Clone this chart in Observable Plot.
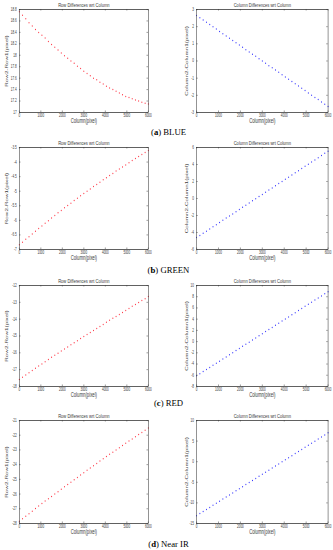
<!DOCTYPE html>
<html><head><meta charset="utf-8">
<script src="https://cdn.jsdelivr.net/npm/d3@7"></script>
<script src="https://cdn.jsdelivr.net/npm/@observablehq/plot@0.6"></script>
<style>
html,body{margin:0;padding:0;background:#fff;}
#page{position:relative;width:333px;height:550px;overflow:hidden;background:#fff;}
#squeeze{position:absolute;left:0;top:0;width:490px;height:550px;transform:scaleX(0.68);transform-origin:0 0;}
.cap{position:absolute;left:0;width:337px;text-align:center;font-family:"Liberation Serif","Times New Roman",serif;font-size:8.7px;line-height:10px;color:#000;white-space:nowrap;}
</style></head>
<body><div id="page"><div id="squeeze"></div></div>
<script>
// ---------- data ----------
const columns = [0,150,300,450,600,750,900,1050,1200,1350,1500,1650,1800,1950,2100,2250,2400,2550,2700,2850,3000,3150,3300,3450,3600,3750,3900,4050,4200,4350,4500,4650,4800,4950,5100,5250,5400,5550,5700,5850,6000];

const blueRowDiff = [18.76,18.70,18.64,18.57,18.51,18.45,18.40,18.35,18.30,18.24,18.19,18.14,18.09,18.04,17.99,17.95,17.90,17.86,17.81,17.77,17.72,17.68,17.64,17.60,17.57,17.53,17.50,17.46,17.43,17.40,17.37,17.34,17.31,17.28,17.26,17.24,17.22,17.20,17.18,17.16,17.15];
const blueColDiff = [2.65,2.52,2.39,2.25,2.12,1.99,1.86,1.72,1.59,1.46,1.33,1.19,1.06,0.93,0.80,0.66,0.53,0.40,0.27,0.13,0,-0.13,-0.27,-0.40,-0.53,-0.66,-0.80,-0.93,-1.06,-1.19,-1.33,-1.46,-1.59,-1.72,-1.86,-1.99,-2.12,-2.25,-2.39,-2.52,-2.65];
const greenRowDiff = [-6.84,-6.75,-6.65,-6.56,-6.47,-6.37,-6.28,-6.19,-6.10,-6.01,-5.92,-5.83,-5.74,-5.66,-5.57,-5.49,-5.41,-5.32,-5.24,-5.16,-5.08,-5.00,-4.92,-4.84,-4.77,-4.69,-4.61,-4.54,-4.46,-4.39,-4.31,-4.24,-4.17,-4.10,-4.02,-3.95,-3.88,-3.81,-3.74,-3.67,-3.60];
const greenColDiff = [-4.60,-4.35,-4.09,-3.84,-3.58,-3.33,-3.08,-2.82,-2.57,-2.31,-2.06,-1.81,-1.55,-1.30,-1.04,-0.79,-0.54,-0.28,-0.03,0.23,0.48,0.73,0.99,1.24,1.50,1.75,2.00,2.26,2.51,2.77,3.02,3.27,3.53,3.78,4.04,4.29,4.54,4.80,5.05,5.31,5.56];
const redRowDiff = [-17.59,-17.45,-17.32,-17.18,-17.05,-16.91,-16.78,-16.66,-16.53,-16.40,-16.27,-16.15,-16.02,-15.89,-15.77,-15.65,-15.52,-15.40,-15.28,-15.15,-15.03,-14.91,-14.79,-14.67,-14.55,-14.43,-14.31,-14.19,-14.07,-13.95,-13.84,-13.72,-13.60,-13.48,-13.36,-13.24,-13.13,-13.01,-12.89,-12.78,-12.66];
const redColDiff = [-6.10,-5.73,-5.35,-4.98,-4.60,-4.23,-3.85,-3.48,-3.10,-2.73,-2.35,-1.98,-1.60,-1.23,-0.85,-0.48,-0.10,0.28,0.65,1.03,1.40,1.78,2.15,2.53,2.90,3.28,3.65,4.03,4.40,4.78,5.15,5.53,5.90,6.28,6.65,7.03,7.40,7.78,8.15,8.53,8.90];
const nirRowDiff = [-27.85,-27.68,-27.50,-27.33,-27.16,-26.98,-26.81,-26.65,-26.48,-26.32,-26.16,-26.00,-25.84,-25.67,-25.51,-25.35,-25.19,-25.03,-24.87,-24.71,-24.55,-24.39,-24.23,-24.08,-23.92,-23.76,-23.60,-23.45,-23.30,-23.15,-23.00,-22.85,-22.70,-22.55,-22.40,-22.25,-22.10,-21.96,-21.81,-21.66,-21.51];
const nirColDiff = [-13.10,-12.60,-12.10,-11.59,-11.09,-10.59,-10.09,-9.58,-9.08,-8.58,-8.08,-7.57,-7.07,-6.57,-6.07,-5.56,-5.06,-4.56,-4.06,-3.55,-3.05,-2.55,-2.05,-1.54,-1.04,-0.54,-0.04,0.47,0.97,1.47,1.97,2.48,2.98,3.48,3.98,4.49,4.99,5.49,5.99,6.50,7.00];

const xTicks = [0,1000,2000,3000,4000,5000,6000];
const blueRowTicks = [17,17.2,17.4,17.6,17.8,18,18.2,18.4,18.6,18.8];
const blueColTicks = [-3,-2,-1,0,1,2,3];
const greenRowTicks = [-7,-6.5,-6,-5.5,-5,-4.5,-4,-3.5];
const greenColTicks = [-6,-4,-2,0,2,4,6];
const redRowTicks = [-18,-17,-16,-15,-14,-13,-12];
const redColTicks = [-8,-6,-4,-2,0,2,4,6,8,10];
const nirRowTicks = [-28,-27,-26,-25,-24,-23,-22,-21];
const nirColTicks = [-15,-10,-5,0,5,10];

const rowTitle = "Row Differences wrt Column";
const colTitle = "Column Differences wrt Column";
const rowYLabel = "Row2-Row1(pixel)";
const colYLabel = "Column2-Column1(pixel)";
const xLabel = "Column(pixel)";
const captionLetters = ["a","b","c","d"];
const captionNames = ["BLUE","GREEN","RED","Near IR"];

// ---------- layout ----------
const S = 0.68;
const rowLayout = [
  {svgTop:0,   frameTop:9,   frameBottom:112, capTop:127},
  {svgTop:135, frameTop:147, frameBottom:249, capTop:265},
  {svgTop:272, frameTop:285, frameBottom:386, capTop:398},
  {svgTop:407, frameTop:420, frameBottom:523, capTop:539}
];
const colLayout = [
  {left:0,   width:165, frameLeft:19,  frameRight:148,   ylabelDx:-18, color:"#ff2a3a", title:rowTitle, ylabel:rowYLabel},
  {left:165, width:168, frameLeft:196, frameRight:327.5, ylabelDx:-15, color:"#2a2aff", title:colTitle, ylabel:colYLabel}
];
const panels = [
  [[blueRowDiff, blueRowTicks], [blueColDiff, blueColTicks]],
  [[greenRowDiff, greenRowTicks], [greenColDiff, greenColTicks]],
  [[redRowDiff, redRowTicks], [redColDiff, redColTicks]],
  [[nirRowDiff, nirRowTicks], [nirColDiff, nirColTicks]]
];

const ink = "#3a3a3a";
const fmt = d => String(d);
const sans = "'Liberation Sans', Arial, Helvetica, sans-serif";

function panel(values, yTicks, row, col) {
  const data = columns.map((c, i) => ({col: c, v: values[i]}));
  const width = col.width / S;
  const ml = (col.frameLeft - col.left) / S;
  const mr = (col.left + col.width - col.frameRight) / S;
  const mt = row.frameTop - row.svgTop;
  const mb = 13;
  const height = row.frameBottom - row.svgTop + mb;
  const fh = height - mt - mb, fw = width - ml - mr;
  const svg = Plot.plot({
    width, height, marginLeft: ml, marginRight: mr, marginTop: mt, marginBottom: mb,
    style: {fontFamily: sans, fontSize: "4.5px", color: ink, background: "transparent", overflow: "visible"},
    x: {domain: [0, 6000]},
    y: {domain: [yTicks[0], yTicks[yTicks.length - 1]]},
    marks: [
      Plot.dot(data, {x: "col", y: "v", r: 0.75, fill: col.color}),
      Plot.tickX(xTicks, {x: d => d, insetTop: fh - 1.5, stroke: ink, strokeWidth: 0.6}),
      Plot.tickX(xTicks, {x: d => d, insetBottom: fh - 1.5, stroke: ink, strokeWidth: 0.6}),
      Plot.tickY(yTicks, {y: d => d, insetRight: fw - 2.2, stroke: ink, strokeWidth: 0.6}),
      Plot.tickY(yTicks, {y: d => d, insetLeft: fw - 2.2, stroke: ink, strokeWidth: 0.6}),
      Plot.frame({stroke: ink, strokeWidth: 0.8}),
      Plot.axisX(xTicks, {tickSize: 0, tickPadding: 1.8, tickFormat: fmt, label: null, fill: ink, fontFamily: sans}),
      Plot.axisY(yTicks, {tickSize: 0, tickPadding: 4, tickFormat: fmt, label: null, fill: ink, fontFamily: sans}),
      Plot.text([col.title], {text: d => d, frameAnchor: "top", lineAnchor: "middle", dy: -4, fontSize: 6, fill: ink, fontFamily: sans}),
      Plot.text([xLabel], {text: d => d, frameAnchor: "bottom", lineAnchor: "middle", dy: 8.7, fontSize: 6.3, fill: ink, fontFamily: sans}),
      Plot.text([col.ylabel], {text: d => d, frameAnchor: "left", textAnchor: "middle", lineAnchor: "middle", dx: col.ylabelDx, rotate: -90, fontSize: 6.3, fill: ink, fontFamily: sans})
    ]
  });
  svg.style.position = "absolute";
  svg.style.left = (col.left / S) + "px";
  svg.style.top = row.svgTop + "px";
  return svg;
}

const squeeze = document.getElementById("squeeze");
const page = document.getElementById("page");
rowLayout.forEach((row, r) => {
  colLayout.forEach((col, c) => {
    const [vals, ticks] = panels[r][c];
    squeeze.appendChild(panel(vals, ticks, row, col));
  });
  const cap = document.createElement("div");
  cap.className = "cap";
  cap.style.top = row.capTop + "px";
  cap.innerHTML = "(<b>" + captionLetters[r] + "</b>) " + captionNames[r];
  page.appendChild(cap);
});
</script>
</body></html>
